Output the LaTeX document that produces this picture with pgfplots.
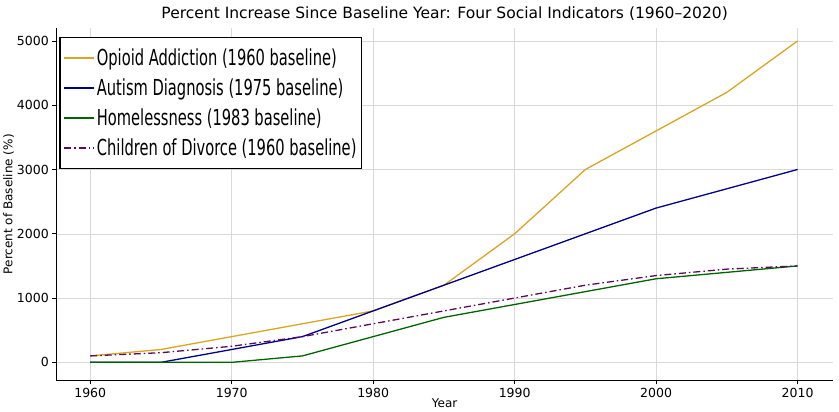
\documentclass[border=0pt]{standalone}
\usepackage{fontspec}
\setmainfont{DejaVu Sans}
\newfontfamily\legfont[FakeStretch=0.74]{DejaVu Sans Condensed}
\usepackage{pgfplots}
\pgfplotsset{compat=1.18}

\definecolor{opioid}{HTML}{DAA520}
\definecolor{autism}{HTML}{00008B}
\definecolor{homeless}{HTML}{006400}
\definecolor{divorce}{HTML}{5A0A5A}

\begin{document}
\begin{tikzpicture}
  \begin{axis}[
      scale only axis,
      width=776pt, height=352pt,
      xmin=1957.6, xmax=2012.5,
      ymin=-280, ymax=5200,
      xtick={1960,1970,...,2010},
      ytick={0,1000,...,5000},
      axis lines*=left,
      axis line style={-, line width=0.8pt},
      tick style={black, line width=0.6pt},
      tick align=outside,
      major tick length=4pt,
      grid=major,
      grid style={gray!30, line width=0.5pt},
      /pgf/number format/assume math mode=true,
      /pgf/number format/1000 sep={},
      ticklabel style={font=\fontsize{12.5}{14}\selectfont},
      title={Percent Increase Since Baseline Year: Four Social Indicators (1960–2020)},
      title style={font=\fontsize{15.5}{18}\selectfont, yshift=-2pt},
      xlabel={Year},
      ylabel={Percent of Baseline (\%)},
      label style={font=\fontsize{12}{14}\selectfont},
      xlabel style={yshift=5pt},
      ylabel style={yshift=-4pt},
      extra description/.code={%
        \path (rel axis cs:1,0) ++(6pt,0pt);
        \path (rel axis cs:0.5,1) ++(0pt,28pt);},
      legend cell align=left,
      legend style={at={(0.004,0.975)}, anchor=north west,
        draw=black, very thick, fill=white,
        font=\legfont\fontsize{22}{26}\selectfont,
        row sep=8pt, inner xsep=3pt, inner ysep=9pt},
      legend image code/.code={%
        \draw[#1, line width=2pt] (0cm,0cm) -- (1.05cm,0cm);},
    ]
    \addplot[opioid, line width=1.3pt] coordinates {
      (1960,100) (1965,200) (1970,400) (1975,600) (1980,800) (1985,1200)
      (1990,2000) (1995,3000) (2000,3600) (2005,4200) (2010,5000)};
    \addlegendentry{Opioid Addiction (1960 baseline)}
    \addplot[autism, line width=1.3pt] coordinates {
      (1960,0) (1965,0) (1970,200) (1975,400) (1980,800) (1985,1200)
      (1990,1600) (1995,2000) (2000,2400) (2005,2700) (2010,3000)};
    \addlegendentry{Autism Diagnosis (1975 baseline)}
    \addplot[homeless, line width=1.3pt] coordinates {
      (1960,0) (1965,0) (1970,0) (1975,100) (1980,400) (1985,700)
      (1990,900) (1995,1100) (2000,1300) (2005,1400) (2010,1500)};
    \addlegendentry{Homelessness (1983 baseline)}
    \addplot[divorce, line width=1.3pt, dash pattern=on 7pt off 3pt on 1.5pt off 3pt] coordinates {
      (1960,100) (1965,150) (1970,250) (1975,400) (1980,600) (1985,800)
      (1990,1000) (1995,1200) (2000,1350) (2005,1450) (2010,1500)};
    \addlegendentry{Children of Divorce (1960 baseline)}
  \end{axis}
\end{tikzpicture}
\end{document}
